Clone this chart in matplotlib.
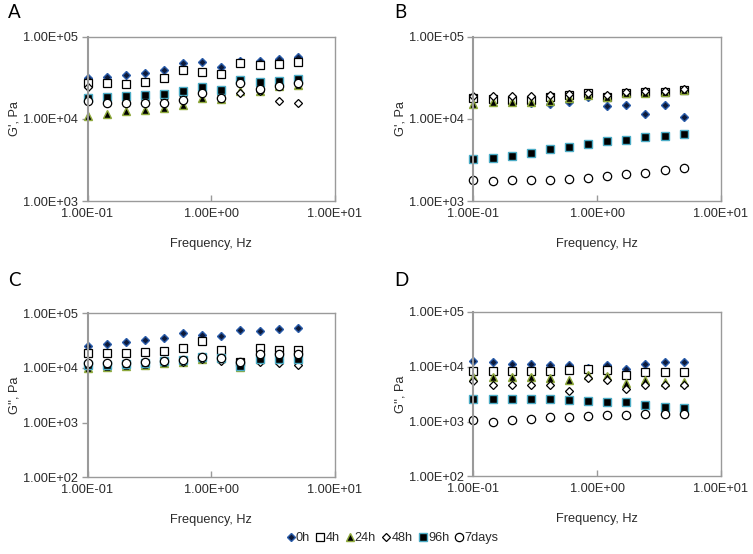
import matplotlib
matplotlib.use("Agg")
import matplotlib.pyplot as plt
from matplotlib.ticker import FixedLocator, NullLocator
import numpy as np

plt.rcParams['font.family'] = ['Liberation Sans', 'DejaVu Sans']

freq = [0.1, 0.143, 0.204, 0.291, 0.415, 0.593, 0.846, 1.21, 1.72, 2.46, 3.51, 5.0]
series_names = ["0h", "4h", "24h", "48h", "96h", "7days"]

# Panel A: G' (Pa)
A_0h = [31100, 32000, 34100, 36400, 39200, 47300, 48700, 42400, 50600, 50600, 53500, 56100]
A_4h = [27000, 27000, 26500, 28200, 31100, 39200, 37400, 35100, 47300, 45200, 46500, 48700]
A_24h = [10900, 11600, 12400, 12800, 13400, 14700, 17700, 17400, 22000, 22000, 25000, 26000]
A_48h = [24200, 17000, 17300, 17600, 17800, 19300, 22300, 19900, 20700, 21800, 16400, 15800]
A_96h = [18000, 18500, 18900, 19500, 20000, 22000, 24600, 22400, 29600, 28200, 28700, 30200]
A_7d = [16400, 15700, 15800, 15800, 15800, 16900, 20400, 17700, 27000, 23400, 25200, 27500]

# Panel B: G' (Pa)
B_0h = [18000, 17500, 17000, 15500, 15000, 15900, 18500, 14300, 14700, 11300, 14700, 10400]
B_4h = [17700, 17400, 16900, 17200, 18500, 19500, 20400, 18500, 20900, 21300, 21300, 22500]
B_24h = [15100, 16100, 16100, 16100, 16400, 18000, 19500, 18500, 20400, 20900, 21300, 22500]
B_48h = [18900, 18900, 18900, 18900, 19500, 19800, 20400, 19500, 21300, 21800, 22000, 23000]
B_96h = [3250, 3340, 3540, 3850, 4240, 4560, 4910, 5340, 5600, 5980, 6210, 6630]
B_7d = [1790, 1750, 1790, 1790, 1790, 1850, 1930, 2020, 2120, 2200, 2370, 2520]

# Panel C: G'' (Pa)
C_0h = [25200, 27100, 29900, 32100, 35300, 42500, 39800, 38500, 48900, 46900, 50200, 53900]
C_4h = [18300, 18800, 18800, 19700, 20500, 22600, 31200, 21100, 12500, 22600, 21100, 21100]
C_24h = [10000, 10300, 10600, 11200, 12000, 13000, 14500, 14800, 10500, 14200, 14200, 14200]
C_48h = [11500, 11800, 12000, 12300, 12600, 12600, 14500, 13300, 12000, 13000, 12000, 11200]
C_96h = [11200, 11200, 11500, 12400, 13300, 13800, 15900, 15200, 10700, 14600, 14600, 14600]
C_7d = [12000, 12000, 12000, 12600, 13300, 13800, 15900, 15200, 12900, 17800, 17800, 17800]

# Panel D: G'' (Pa)
D_0h = [12500, 12000, 11400, 11400, 10900, 10600, 9500, 10900, 9190, 11200, 12000, 12200]
D_4h = [8200, 8200, 8450, 8450, 8450, 8570, 9190, 8820, 7140, 7870, 8000, 7870]
D_24h = [6470, 6470, 6380, 6380, 6200, 5780, 7000, 6700, 5030, 5800, 5300, 5200]
D_48h = [5400, 4690, 4690, 4690, 4690, 3540, 6200, 5620, 3910, 4690, 4690, 4690]
D_96h = [2570, 2600, 2600, 2600, 2600, 2500, 2390, 2320, 2230, 2020, 1880, 1750]
D_7d = [1045, 1000, 1045, 1120, 1200, 1200, 1270, 1290, 1320, 1360, 1380, 1360]

panels = [
    ("A", "G', Pa", (1e3, 1e5), [A_0h, A_4h, A_24h, A_48h, A_96h, A_7d]),
    ("B", "G', Pa", (1e3, 1e5), [B_0h, B_4h, B_24h, B_48h, B_96h, B_7d]),
    ("C", "G'', Pa", (1e2, 1e5), [C_0h, C_4h, C_24h, C_48h, C_96h, C_7d]),
    ("D", "G'', Pa", (1e2, 1e5), [D_0h, D_4h, D_24h, D_48h, D_96h, D_7d]),
]

styles = [
    dict(marker='D', ms=4.2, mfc='#0d1a3a', mec='#2a5caa', mew=1.0),
    dict(marker='s', ms=5.2, mfc='white', mec='black', mew=0.9),
    dict(marker='^', ms=5.5, mfc='black', mec='#8faa3c', mew=1.0),
    dict(marker='D', ms=4.5, mfc='white', mec='black', mew=0.9),
    dict(marker='s', ms=5.2, mfc='black', mec='#4bacc6', mew=1.0),
    dict(marker='o', ms=6.0, mfc='white', mec='black', mew=0.9),
]

W, H = 753, 554
fig = plt.figure(figsize=(W / 100, H / 100), dpi=100)

# pixel boxes: left, top, right, bottom
boxes = [
    (87.5, 36.7, 335.0, 201.0),
    (473.3, 36.7, 720.8, 201.0),
    (87.5, 313.0, 335.0, 477.3),
    (473.3, 312.0, 720.8, 476.3),
]
letter_pos = [(8, 12), (394, 12), (8, 281), (394, 281)]

spine_col = '#9a9a9a'
txt_col = '#2a2a2a'
handles = []
for (letter, ylab, ylim, data), (l, t, r, b), lp in zip(panels, boxes, letter_pos):
    ax = fig.add_axes([l / W, 1 - b / H, (r - l) / W, (b - t) / H])
    ax.set_xscale('log')
    ax.set_yscale('log')
    ax.set_xlim(0.1, 10)
    ax.set_ylim(*ylim)
    hs = []
    for vals, st, name in zip(data, styles, series_names):
        h, = ax.plot(freq, vals, linestyle='none', label=name, clip_on=False, **st)
        hs.append(h)
    handles = hs
    yt = [10.0 ** k for k in range(int(round(np.log10(ylim[0]))), int(round(np.log10(ylim[1]))) + 1)]
    ax.yaxis.set_major_locator(FixedLocator(yt))
    ax.xaxis.set_major_locator(FixedLocator([0.1, 1, 10]))
    ax.xaxis.set_minor_locator(NullLocator())
    ax.yaxis.set_minor_locator(NullLocator())
    ax.set_yticklabels([f"{v:.2E}" for v in yt])
    ax.set_xticklabels(["1.00E-01", "1.00E+00", "1.00E+01"])
    ax.tick_params(axis='x', direction='in', length=4, width=1, colors=spine_col,
                   labelcolor=txt_col, labelsize=9.2, pad=5)
    ax.tick_params(axis='y', direction='out', length=4, width=1, colors=spine_col,
                   labelcolor=txt_col, labelsize=9.2, pad=3)
    for s in ax.spines.values():
        s.set_color(spine_col)
        s.set_linewidth(1.0)
    ax.spines['left'].set_linewidth(1.5)
    ax.set_xlabel("Frequency, Hz", fontsize=9.2, color=txt_col)
    ax.xaxis.set_label_coords(0.5, -0.225)
    ax.set_ylabel(ylab, fontsize=9.2, color=txt_col)
    ax.yaxis.set_label_coords(-0.27, 0.5)
    fig.text(lp[0] / W, 1 - lp[1] / H, letter, fontsize=13.5, family=['Lato', 'DejaVu Sans'],
             ha='left', va='center', color='black')

fig.legend(handles=handles, labels=series_names, loc='center', ncol=6,
           bbox_to_anchor=(393 / W, 1 - 538 / H), frameon=False, fontsize=9.2,
           handlelength=0.5, handletextpad=0.15, columnspacing=0.55, borderpad=0,
           labelcolor=txt_col)

fig.savefig("out.png", dpi=100)
